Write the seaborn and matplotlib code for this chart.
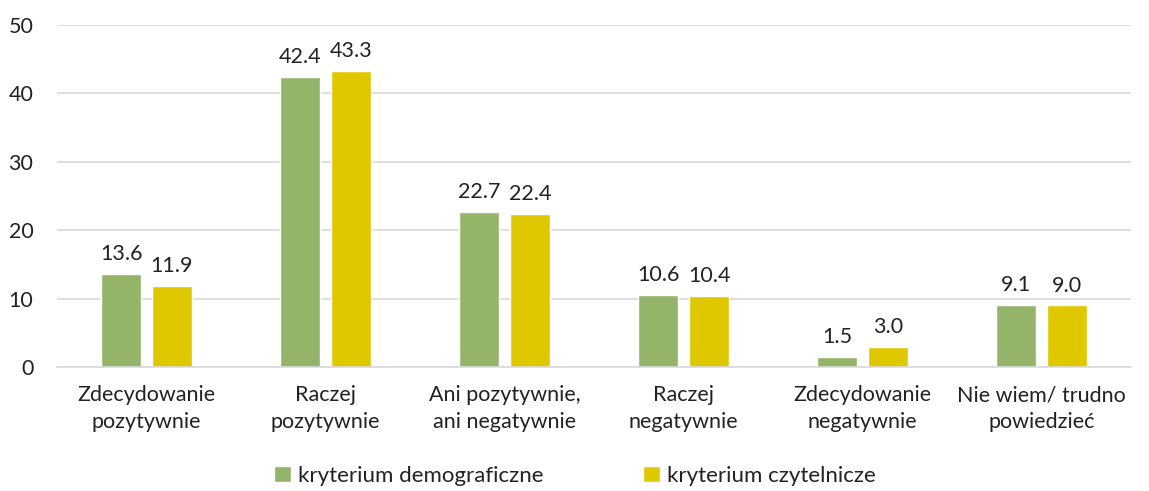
import matplotlib
matplotlib.use('Agg')
import matplotlib.pyplot as plt
import seaborn as sns
import pandas as pd

categories = ['Zdecydowanie\npozytywnie', 'Raczej\npozytywnie', 'Ani pozytywnie,\nani negatywnie',
              'Raczej\nnegatywnie', 'Zdecydowanie\nnegatywnie', 'Nie wiem/ trudno\npowiedzieć']
demograficzne = [13.6, 42.4, 22.7, 10.6, 1.5, 9.1]
czytelnicze = [11.9, 43.3, 22.4, 10.4, 3.0, 9.0]
series = ['kryterium demograficzne', 'kryterium czytelnicze']
colors = ['#94B46A', '#E0C800']

df = pd.DataFrame({
    'kategoria': categories * 2,
    'wartosc': demograficzne + czytelnicze,
    'seria': [series[0]] * 6 + [series[1]] * 6,
})

sns.set_style('white')
plt.rcParams['font.family'] = ['Lato', 'DejaVu Sans']

fig = plt.figure(figsize=(11.49, 4.91), dpi=100)
ax = fig.add_axes([0.0496, 0.2525, 0.935, 0.6965])

sns.barplot(data=df, x='kategoria', y='wartosc', hue='seria', palette=colors,
            width=0.568, gap=0.216, ax=ax, saturation=1)

for cont in ax.containers:
    ax.bar_label(cont, fmt='%.1f', padding=7, fontsize=15.5, color='#222222')

ax.set_ylim(0, 50)
ax.set_yticks(range(0, 51, 10))
ax.yaxis.grid(True, color='#D9D9D9', linewidth=1.2)
ax.set_axisbelow(True)
for s in ['top', 'right', 'left']:
    ax.spines[s].set_visible(False)
ax.spines['bottom'].set_color('#D9D9D9')
ax.spines['bottom'].set_linewidth(1.2)
ax.tick_params(axis='both', length=0, labelsize=15.5, colors='#222222')
ax.tick_params(axis='y', pad=17)
ax.tick_params(axis='x', pad=13)
for lbl in ax.get_xticklabels():
    lbl.set_linespacing(1.45)
ax.set_xlabel('')
ax.set_ylabel('')

ax.legend(loc='lower center', bbox_to_anchor=(0.482, -0.405), ncol=2, frameon=False,
          fontsize=16, handlelength=0.75, handleheight=0.75, handletextpad=0.3,
          columnspacing=4.5, labelcolor='#222222')

fig.savefig('out.png', dpi=100)
